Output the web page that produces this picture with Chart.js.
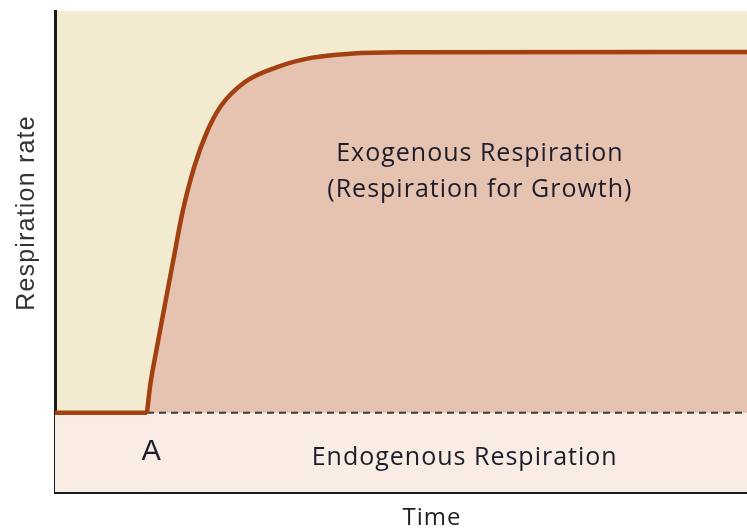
<!DOCTYPE html>
<html>
<head>
<meta charset="utf-8">
<script src="https://cdn.jsdelivr.net/npm/chart.js@4"></script>
<style>
  html, body { margin: 0; padding: 0; background: #fff; }
  #wrap { width: 747px; height: 528px; }
</style>
</head>
<body>
<div id="wrap"><canvas id="resp" width="747" height="528"></canvas></div>
<script>
/* ===== DATA ===== */
const onsetTime = 13.3;
const baseRate = 16.5;
const baseTimes = [0, onsetTime];
const baseRates = [baseRate, baseRate];
const endoTimes = [onsetTime, 100];
const endoRates = [baseRate, baseRate];
const exoTimes = [13.3, 13.75, 14.5, 15.8, 17.2, 18.4, 20.1, 22, 24, 27.4, 32, 37.2, 42.6, 49.8, 100];
const exoRates = [16.5, 22.1, 28.3, 38.3, 49, 58, 67.5, 75, 80.3, 85.2, 88.3, 90.3, 91.1, 91.4, 91.5];

const toXY = (xs, ys) => xs.map((x, i) => ({ x, y: ys[i] }));

const BROWN = '#a3400f';

/* ===== PLUGINS ===== */
const areaBg = {
  id: 'areaBg',
  beforeDraw(chart) {
    const { ctx, chartArea: a } = chart;
    ctx.save();
    ctx.fillStyle = '#f3ebcf';
    ctx.fillRect(a.left, a.top, a.right - a.left, a.bottom - a.top);
    ctx.restore();
  }
};

const labels = {
  id: 'labels',
  afterDraw(chart) {
    const { ctx, scales: { x, y } } = chart;
    ctx.save();
    ctx.textAlign = 'center';
    ctx.textBaseline = 'middle';
    ctx.fillStyle = '#1c1c2a';
    ctx.font = '25px "Open Sans"';
    ctx.letterSpacing = '1px';
    ctx.fillText('Exogenous Respiration', x.getPixelForValue(61.4), y.getPixelForValue(70.4));
    ctx.fillText('(Respiration for Growth)', x.getPixelForValue(61.4), y.getPixelForValue(62.9));
    ctx.fillText('Endogenous Respiration', x.getPixelForValue(59.2), y.getPixelForValue(7.1));
    ctx.letterSpacing = '0px';
    ctx.font = '29px "Liberation Sans"';
    ctx.fillText('A', x.getPixelForValue(13.9), y.getPixelForValue(8.3));
    ctx.fillStyle = '#222';
    ctx.font = '24px "Open Sans"';
    ctx.letterSpacing = '1px';
    ctx.fillText('Time', 432, 518);
    ctx.fillStyle = '#333';
    ctx.font = '25px "Liberation Sans"';
    ctx.letterSpacing = '1.2px';
    ctx.translate(27, 213);
    ctx.rotate(-Math.PI / 2);
    ctx.fillText('Respiration rate', 0, 0);
    ctx.restore();
  }
};

/* ===== CHART ===== */
new Chart(document.getElementById('resp'), {
  type: 'line',
  data: {
    datasets: [
      {
        label: 'Endogenous', data: toXY(endoTimes, endoRates),
        borderColor: '#3a3a3a', borderWidth: 2, borderDash: [7, 5],
        backgroundColor: '#f8ece5', fill: 'origin', pointRadius: 0, order: 3
      },
      {
        label: 'Exogenous', data: toXY(exoTimes, exoRates),
        borderColor: BROWN, borderWidth: 4.5, cubicInterpolationMode: 'monotone',
        backgroundColor: '#e6c3b0', fill: 0, pointRadius: 0, order: 1
      },
      {
        label: 'Before A', data: toXY(baseTimes, baseRates),
        borderColor: BROWN, borderWidth: 4.5, borderCapStyle: 'butt',
        backgroundColor: '#f8ece5', fill: 'origin', pointRadius: 0, order: 2
      }
    ]
  },
  options: {
    responsive: false, animation: false,
    layout: { padding: { left: 55, top: 11, right: 0, bottom: 36 } },
    plugins: {
      legend: { display: false }, tooltip: { enabled: false },
      filler: { drawTime: 'beforeDatasetsDraw' }
    },
    scales: {
      x: {
        type: 'linear', min: 0, max: 100,
        ticks: { display: false }, grid: { display: false, drawTicks: false },
        border: { color: '#1a1a1a', width: 3 }
      },
      y: {
        min: 0, max: 100,
        ticks: { display: false }, grid: { display: false, drawTicks: false },
        border: { color: '#1a1a1a', width: 3 }
      }
    }
  },
  plugins: [areaBg, labels]
});
</script>
</body>
</html>
